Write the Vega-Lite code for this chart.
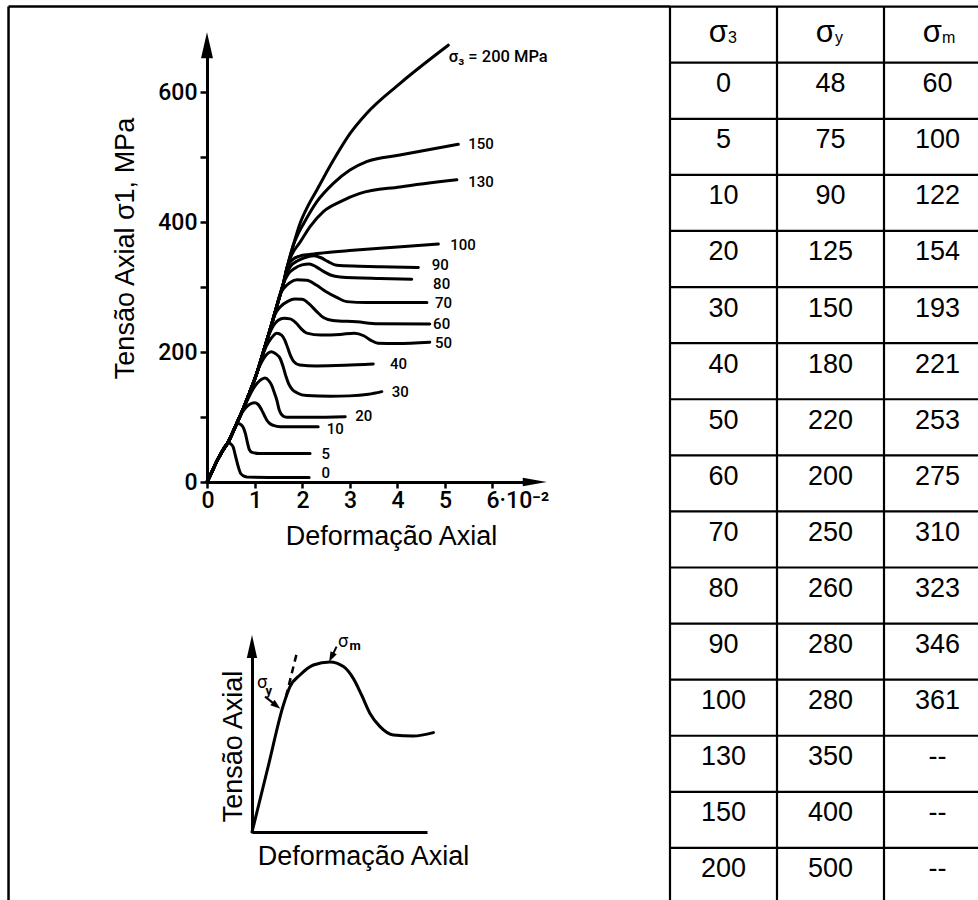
{
  "$schema": "https://vega.github.io/schema/vega-lite/v6.json",
  "width": 978,
  "height": 900,
  "padding": 0,
  "autosize": {"type": "none"},
  "background": "white",
  "config": {"view": {"stroke": null}, "axis": {"grid": false}},
  "datasets": {
    "curves": [
      {"c":0,"e":0,"s":0},{"c":0,"e":0.1,"s":15},{"c":0,"e":0.2,"s":31},{"c":0,"e":0.3,"s":45},{"c":0,"e":0.38,"s":55},{"c":0,"e":0.45,"s":60.5},{"c":0,"e":0.5,"s":58.5},{"c":0,"e":0.55,"s":54},{"c":0,"e":0.6,"s":40},{"c":0,"e":0.66,"s":23},{"c":0,"e":0.71,"s":13},{"c":0,"e":0.78,"s":9},{"c":0,"e":0.85,"s":7.5},{"c":0,"e":1.3,"s":7},{"c":0,"e":2.15,"s":7},
      {"c":5,"e":0,"s":0},{"c":5,"e":0.1,"s":15},{"c":5,"e":0.2,"s":31},{"c":5,"e":0.32,"s":47},{"c":5,"e":0.45,"s":62},{"c":5,"e":0.58,"s":82},{"c":5,"e":0.66,"s":90},{"c":5,"e":0.72,"s":88},{"c":5,"e":0.77,"s":83},{"c":5,"e":0.81,"s":74},{"c":5,"e":0.85,"s":61},{"c":5,"e":0.89,"s":50},{"c":5,"e":0.95,"s":45.5},{"c":5,"e":1.1,"s":44},{"c":5,"e":2.17,"s":44},
      {"c":10,"e":0,"s":0},{"c":10,"e":0.1,"s":15},{"c":10,"e":0.2,"s":31},{"c":10,"e":0.32,"s":47},{"c":10,"e":0.45,"s":62},{"c":10,"e":0.625,"s":90},{"c":10,"e":0.7,"s":102},{"c":10,"e":0.8,"s":113},{"c":10,"e":0.9,"s":119.5},{"c":10,"e":1.0,"s":122},{"c":10,"e":1.08,"s":119},{"c":10,"e":1.15,"s":111},{"c":10,"e":1.21,"s":102},{"c":10,"e":1.26,"s":95},{"c":10,"e":1.32,"s":90},{"c":10,"e":1.4,"s":87},{"c":10,"e":1.54,"s":85},{"c":10,"e":2.0,"s":85},{"c":10,"e":2.34,"s":85},
      {"c":20,"e":0,"s":0},{"c":20,"e":0.1,"s":15},{"c":20,"e":0.2,"s":31},{"c":20,"e":0.32,"s":47},{"c":20,"e":0.45,"s":62},{"c":20,"e":0.625,"s":90},{"c":20,"e":0.765,"s":113},{"c":20,"e":0.87,"s":129},{"c":20,"e":0.97,"s":143},{"c":20,"e":1.07,"s":153},{"c":20,"e":1.15,"s":158},{"c":20,"e":1.22,"s":160},{"c":20,"e":1.3,"s":156},{"c":20,"e":1.36,"s":149},{"c":20,"e":1.42,"s":137},{"c":20,"e":1.47,"s":126},{"c":20,"e":1.52,"s":111},{"c":20,"e":1.58,"s":103},{"c":20,"e":1.68,"s":99.5},{"c":20,"e":2.2,"s":99.5},{"c":20,"e":2.91,"s":100.5},
      {"c":30,"e":0,"s":0},{"c":30,"e":0.1,"s":15},{"c":30,"e":0.2,"s":31},{"c":30,"e":0.32,"s":47},{"c":30,"e":0.45,"s":62},{"c":30,"e":0.625,"s":90},{"c":30,"e":0.765,"s":113},{"c":30,"e":0.905,"s":139},{"c":30,"e":1.0,"s":157},{"c":30,"e":1.1,"s":177},{"c":30,"e":1.2,"s":191},{"c":30,"e":1.28,"s":198},{"c":30,"e":1.36,"s":200.5},{"c":30,"e":1.45,"s":197},{"c":30,"e":1.54,"s":190},{"c":30,"e":1.6,"s":178},{"c":30,"e":1.66,"s":163},{"c":30,"e":1.72,"s":151},{"c":30,"e":1.8,"s":142},{"c":30,"e":1.9,"s":137},{"c":30,"e":2.1,"s":133},{"c":30,"e":2.6,"s":132},{"c":30,"e":3.0,"s":132.5},{"c":30,"e":3.4,"s":135},{"c":30,"e":3.68,"s":139},
      {"c":40,"e":0,"s":0},{"c":40,"e":0.1,"s":15},{"c":40,"e":0.2,"s":31},{"c":40,"e":0.32,"s":47},{"c":40,"e":0.45,"s":62},{"c":40,"e":0.625,"s":90},{"c":40,"e":0.765,"s":113},{"c":40,"e":0.905,"s":139},{"c":40,"e":1.046,"s":167},{"c":40,"e":1.15,"s":191},{"c":40,"e":1.25,"s":209},{"c":40,"e":1.35,"s":221},{"c":40,"e":1.47,"s":229},{"c":40,"e":1.57,"s":226},{"c":40,"e":1.64,"s":218},{"c":40,"e":1.7,"s":206},{"c":40,"e":1.76,"s":194},{"c":40,"e":1.83,"s":185},{"c":40,"e":1.95,"s":180},{"c":40,"e":2.3,"s":178.5},{"c":40,"e":2.9,"s":179.5},{"c":40,"e":3.5,"s":181.5},
      {"c":50,"e":0,"s":0},{"c":50,"e":0.1,"s":15},{"c":50,"e":0.2,"s":31},{"c":50,"e":0.32,"s":47},{"c":50,"e":0.45,"s":62},{"c":50,"e":0.625,"s":90},{"c":50,"e":0.765,"s":113},{"c":50,"e":0.905,"s":139},{"c":50,"e":1.046,"s":167},{"c":50,"e":1.186,"s":200},{"c":50,"e":1.3,"s":226},{"c":50,"e":1.4,"s":241},{"c":50,"e":1.5,"s":249},{"c":50,"e":1.62,"s":252},{"c":50,"e":1.75,"s":251},{"c":50,"e":1.87,"s":245},{"c":50,"e":1.98,"s":236},{"c":50,"e":2.1,"s":229},{"c":50,"e":2.4,"s":226},{"c":50,"e":2.8,"s":227},{"c":50,"e":3.1,"s":229},{"c":50,"e":3.3,"s":225},{"c":50,"e":3.45,"s":218},{"c":50,"e":3.6,"s":213.5},{"c":50,"e":4.0,"s":213},{"c":50,"e":4.69,"s":215},
      {"c":60,"e":0,"s":0},{"c":60,"e":0.1,"s":15},{"c":60,"e":0.2,"s":31},{"c":60,"e":0.32,"s":47},{"c":60,"e":0.45,"s":62},{"c":60,"e":0.625,"s":90},{"c":60,"e":0.765,"s":113},{"c":60,"e":0.905,"s":139},{"c":60,"e":1.046,"s":167},{"c":60,"e":1.186,"s":200},{"c":60,"e":1.326,"s":234},{"c":60,"e":1.42,"s":256},{"c":60,"e":1.55,"s":270},{"c":60,"e":1.7,"s":278},{"c":60,"e":1.85,"s":281.5},{"c":60,"e":2.0,"s":281},{"c":60,"e":2.15,"s":274},{"c":60,"e":2.3,"s":263},{"c":60,"e":2.45,"s":253},{"c":60,"e":2.65,"s":248.5},{"c":60,"e":3.15,"s":246.5},{"c":60,"e":3.6,"s":243.5},{"c":60,"e":4.69,"s":243},
      {"c":70,"e":0,"s":0},{"c":70,"e":0.1,"s":15},{"c":70,"e":0.2,"s":31},{"c":70,"e":0.32,"s":47},{"c":70,"e":0.45,"s":62},{"c":70,"e":0.625,"s":90},{"c":70,"e":0.765,"s":113},{"c":70,"e":0.905,"s":139},{"c":70,"e":1.046,"s":167},{"c":70,"e":1.186,"s":200},{"c":70,"e":1.326,"s":234},{"c":70,"e":1.467,"s":270},{"c":70,"e":1.53,"s":287},{"c":70,"e":1.63,"s":299},{"c":70,"e":1.75,"s":307},{"c":70,"e":1.9,"s":311},{"c":70,"e":2.1,"s":310.5},{"c":70,"e":2.3,"s":303},{"c":70,"e":2.5,"s":293},{"c":70,"e":2.73,"s":284},{"c":70,"e":2.94,"s":277.5},{"c":70,"e":3.36,"s":276},{"c":70,"e":4.63,"s":276},
      {"c":80,"e":0,"s":0},{"c":80,"e":0.1,"s":15},{"c":80,"e":0.2,"s":31},{"c":80,"e":0.32,"s":47},{"c":80,"e":0.45,"s":62},{"c":80,"e":0.625,"s":90},{"c":80,"e":0.765,"s":113},{"c":80,"e":0.905,"s":139},{"c":80,"e":1.046,"s":167},{"c":80,"e":1.186,"s":200},{"c":80,"e":1.326,"s":234},{"c":80,"e":1.467,"s":270},{"c":80,"e":1.607,"s":305},{"c":80,"e":1.7,"s":319},{"c":80,"e":1.85,"s":329},{"c":80,"e":2.0,"s":334},{"c":80,"e":2.15,"s":335.5},{"c":80,"e":2.3,"s":331},{"c":80,"e":2.45,"s":324},{"c":80,"e":2.6,"s":318.5},{"c":80,"e":2.8,"s":315.5},{"c":80,"e":3.64,"s":313},{"c":80,"e":4.31,"s":312},
      {"c":90,"e":0,"s":0},{"c":90,"e":0.1,"s":15},{"c":90,"e":0.2,"s":31},{"c":90,"e":0.32,"s":47},{"c":90,"e":0.45,"s":62},{"c":90,"e":0.625,"s":90},{"c":90,"e":0.765,"s":113},{"c":90,"e":0.905,"s":139},{"c":90,"e":1.046,"s":167},{"c":90,"e":1.186,"s":200},{"c":90,"e":1.326,"s":234},{"c":90,"e":1.467,"s":270},{"c":90,"e":1.607,"s":305},{"c":90,"e":1.66,"s":318},{"c":90,"e":1.76,"s":332},{"c":90,"e":1.9,"s":340},{"c":90,"e":2.05,"s":345},{"c":90,"e":2.25,"s":348},{"c":90,"e":2.4,"s":345},{"c":90,"e":2.55,"s":339},{"c":90,"e":2.73,"s":333.5},{"c":90,"e":3.2,"s":332},{"c":90,"e":3.64,"s":331},{"c":90,"e":4.45,"s":330},
      {"c":100,"e":0,"s":0},{"c":100,"e":0.1,"s":15},{"c":100,"e":0.2,"s":31},{"c":100,"e":0.32,"s":47},{"c":100,"e":0.45,"s":62},{"c":100,"e":0.625,"s":90},{"c":100,"e":0.765,"s":113},{"c":100,"e":0.905,"s":139},{"c":100,"e":1.046,"s":167},{"c":100,"e":1.186,"s":200},{"c":100,"e":1.326,"s":234},{"c":100,"e":1.467,"s":270},{"c":100,"e":1.607,"s":305},{"c":100,"e":1.69,"s":331},{"c":100,"e":1.8,"s":342},{"c":100,"e":1.95,"s":347.5},{"c":100,"e":2.15,"s":350},{"c":100,"e":2.45,"s":352.5},{"c":100,"e":3.0,"s":356},{"c":100,"e":3.64,"s":359.5},{"c":100,"e":4.3,"s":363},{"c":100,"e":4.87,"s":366},
      {"c":130,"e":0,"s":0},{"c":130,"e":0.1,"s":15},{"c":130,"e":0.2,"s":31},{"c":130,"e":0.32,"s":47},{"c":130,"e":0.45,"s":62},{"c":130,"e":0.625,"s":90},{"c":130,"e":0.765,"s":113},{"c":130,"e":0.905,"s":139},{"c":130,"e":1.046,"s":167},{"c":130,"e":1.186,"s":200},{"c":130,"e":1.326,"s":234},{"c":130,"e":1.467,"s":270},{"c":130,"e":1.607,"s":305},{"c":130,"e":1.69,"s":331},{"c":130,"e":1.78,"s":349},{"c":130,"e":1.96,"s":369},{"c":130,"e":2.17,"s":393},{"c":130,"e":2.45,"s":416},{"c":130,"e":2.8,"s":431},{"c":130,"e":3.22,"s":444},{"c":130,"e":4.06,"s":454},{"c":130,"e":5.26,"s":465},
      {"c":150,"e":0,"s":0},{"c":150,"e":0.1,"s":15},{"c":150,"e":0.2,"s":31},{"c":150,"e":0.32,"s":47},{"c":150,"e":0.45,"s":62},{"c":150,"e":0.625,"s":90},{"c":150,"e":0.765,"s":113},{"c":150,"e":0.905,"s":139},{"c":150,"e":1.046,"s":167},{"c":150,"e":1.186,"s":200},{"c":150,"e":1.326,"s":234},{"c":150,"e":1.467,"s":270},{"c":150,"e":1.607,"s":305},{"c":150,"e":1.69,"s":331},{"c":150,"e":1.82,"s":365},{"c":150,"e":1.92,"s":382},{"c":150,"e":2.03,"s":397},{"c":150,"e":2.31,"s":431},{"c":150,"e":2.66,"s":459.5},{"c":150,"e":3.01,"s":480},{"c":150,"e":3.36,"s":493},{"c":150,"e":4.06,"s":503},{"c":150,"e":5.29,"s":519.5},
      {"c":200,"e":0,"s":0},{"c":200,"e":0.1,"s":15},{"c":200,"e":0.2,"s":31},{"c":200,"e":0.32,"s":47},{"c":200,"e":0.45,"s":62},{"c":200,"e":0.625,"s":90},{"c":200,"e":0.765,"s":113},{"c":200,"e":0.905,"s":139},{"c":200,"e":1.046,"s":167},{"c":200,"e":1.186,"s":200},{"c":200,"e":1.326,"s":234},{"c":200,"e":1.467,"s":270},{"c":200,"e":1.607,"s":305},{"c":200,"e":1.69,"s":331},{"c":200,"e":1.82,"s":365},{"c":200,"e":1.96,"s":398},{"c":200,"e":2.12,"s":424},{"c":200,"e":2.31,"s":449},{"c":200,"e":2.66,"s":495},{"c":200,"e":3.01,"s":536},{"c":200,"e":3.36,"s":567},{"c":200,"e":4.06,"s":613},{"c":200,"e":5.08,"s":672}
    ],
    "topLabel": [{"lab":"σ₃ = 200 MPa","e":5.09,"s":654}],
    "curveLabels": [
      {"lab":"150","e":5.5,"s":520},
      {"lab":"130","e":5.5,"s":461},
      {"lab":"100","e":5.12,"s":364.6},
      {"lab":"90","e":4.73,"s":334.5},
      {"lab":"80","e":4.76,"s":304.5},
      {"lab":"70","e":4.8,"s":276},
      {"lab":"60","e":4.76,"s":243},
      {"lab":"50","e":4.8,"s":214.6},
      {"lab":"40","e":3.85,"s":181.5},
      {"lab":"30","e":3.89,"s":137.7},
      {"lab":"20","e":3.12,"s":101.5},
      {"lab":"10","e":2.52,"s":81.5},
      {"lab":"5","e":2.41,"s":43},
      {"lab":"0","e":2.41,"s":14.6}
    ],
    "schem": [
      {"u":0,"v":0},{"u":0.8,"v":3.24},{"u":1.57,"v":6.35},{"u":1.9,"v":7.27},{"u":2.4,"v":7.85},{"u":3.07,"v":8.35},{"u":3.9,"v":8.5},{"u":4.57,"v":8.27},{"u":5.07,"v":7.67},{"u":5.48,"v":6.85},{"u":5.9,"v":5.93},{"u":6.4,"v":5.27},{"u":7.07,"v":4.85},{"u":8.07,"v":4.8},{"u":9.07,"v":4.97}
    ],
    "schemDash": [{"u":1.7,"v":6.77},{"u":2.27,"v":9.07}],
    "pointerY": [{"u":0.65,"v":6.77,"u2":1.22,"v2":6.32}],
    "pointerM": [{"u":4.23,"v":9.27,"u2":3.97,"v2":8.74}],
    "sigmas": [{"u":0.5,"v":7.45},{"u":4.55,"v":9.52}],
    "subs": [{"t":"y","u":0.84,"v":7.05},{"t":"m","u":5.15,"v":9.3}],
    "table": [
      {"r":1,"s3":"0","sy":"48","sm":"60"},
      {"r":2,"s3":"5","sy":"75","sm":"100"},
      {"r":3,"s3":"10","sy":"90","sm":"122"},
      {"r":4,"s3":"20","sy":"125","sm":"154"},
      {"r":5,"s3":"30","sy":"150","sm":"193"},
      {"r":6,"s3":"40","sy":"180","sm":"221"},
      {"r":7,"s3":"50","sy":"220","sm":"253"},
      {"r":8,"s3":"60","sy":"200","sm":"275"},
      {"r":9,"s3":"70","sy":"250","sm":"310"},
      {"r":10,"s3":"80","sy":"260","sm":"323"},
      {"r":11,"s3":"90","sy":"280","sm":"346"},
      {"r":12,"s3":"100","sy":"280","sm":"361"},
      {"r":13,"s3":"130","sy":"350","sm":"--"},
      {"r":14,"s3":"150","sy":"400","sm":"--"},
      {"r":15,"s3":"200","sy":"500","sm":"--"}
    ],
    "header": [{"c":0.5,"sub":"3"},{"c":1.5,"sub":"y"},{"c":2.5,"sub":"m"}],
    "hlines": [{"j":0},{"j":1},{"j":2},{"j":3},{"j":4},{"j":5},{"j":6},{"j":7},{"j":8},{"j":9},{"j":10},{"j":11},{"j":12},{"j":13},{"j":14},{"j":15}],
    "vlines": [{"k":0},{"k":1},{"k":2},{"k":3}]
  },
  "layer": [
    {
      "encoding": {
        "x": {"field": "e", "type": "quantitative",
          "scale": {"domain": [0, 6.9], "range": [207, 534.75], "nice": false, "zero": false},
          "axis": {"orient": "bottom", "offset": -418, "values": [0,1,2,3,4,5,6],
            "labelExpr": "datum.value == 6 ? '6·10⁻²' : datum.label",
            "labelAlign": "left", "labelOffset": -6, "labelFlush": false, "labelOverlap": false,
            "labelFont": "Roboto", "labelFontSize": 23, "labelFontWeight": 500, "labelColor": "black", "labelPadding": 1,
            "tickSize": 6, "tickWidth": 2.5, "tickColor": "black", "domainColor": "black", "domainWidth": 3, "grid": false,
            "title": "Deformação Axial", "titleFont": "Liberation Sans", "titleFontSize": 27, "titleFontWeight": "normal", "titleColor": "black",
            "titleX": 391, "titleY": 62, "titleAlign": "center", "titleBaseline": "alphabetic", "titleAngle": 0}},
        "y": {"field": "s", "type": "quantitative",
          "scale": {"domain": [0, 672], "range": [482, 45.2], "nice": false, "zero": false},
          "axis": {"orient": "left", "offset": -207, "values": [0,100,200,300,400,500,600],
            "labelExpr": "datum.value % 200 == 0 ? datum.label : ''",
            "labelFlush": false, "labelOverlap": false,
            "labelFont": "Roboto", "labelFontSize": 23, "labelFontWeight": 500, "labelColor": "black", "labelPadding": 3,
            "tickSize": 7, "tickWidth": 2.5, "tickColor": "black", "domainColor": "black", "domainWidth": 3, "grid": false,
            "title": "Tensão Axial σ1, MPa", "titleFont": "Liberation Sans", "titleFontSize": 27, "titleFontWeight": "normal", "titleColor": "black",
            "titleX": -74, "titleY": 248, "titleAngle": 270, "titleAlign": "center", "titleBaseline": "alphabetic"}}
      },
      "layer": [
        {"data": {"name": "curves"},
         "mark": {"type": "line", "interpolate": "monotone", "color": "black", "strokeWidth": 3, "strokeCap": "round", "strokeJoin": "round"},
         "encoding": {"detail": {"field": "c", "type": "nominal"}}},
        {"data": {"name": "curveLabels"},
         "mark": {"type": "text", "align": "left", "baseline": "middle", "font": "Roboto", "fontSize": 15, "fontWeight": 500, "color": "black"},
         "encoding": {"text": {"field": "lab", "type": "nominal"}}},
        {"data": {"name": "topLabel"},
         "mark": {"type": "text", "align": "left", "baseline": "middle", "font": "Roboto", "fontSize": 16.5, "fontWeight": 500, "color": "black"},
         "encoding": {"text": {"field": "lab", "type": "nominal"}}},
        {"data": {"values": [{"e": 0, "s": 672}]},
         "mark": {"type": "point", "shape": "M0,-1L0.46,1L-0.46,1Z", "size": 676, "filled": true, "color": "black", "opacity": 1, "strokeWidth": 0}},
        {"data": {"values": [{"e": 6.9, "s": 0}]},
         "mark": {"type": "point", "shape": "M1,0L-1,-0.35L-1,0.35Z", "size": 576, "filled": true, "color": "black", "opacity": 1, "strokeWidth": 0}}
      ]
    },
    {
      "encoding": {
        "x": {"field": "u", "type": "quantitative",
          "scale": {"domain": [0, 8.75], "range": [252, 427], "nice": false, "zero": false},
          "axis": {"orient": "bottom", "offset": -68, "ticks": false, "labels": false, "grid": false,
            "domainColor": "black", "domainWidth": 3,
            "title": "Deformação Axial", "titleFont": "Liberation Sans", "titleFontSize": 27, "titleFontWeight": "normal", "titleColor": "black",
            "titleX": 363, "titleY": 32, "titleAlign": "center", "titleBaseline": "alphabetic", "titleAngle": 0}},
        "y": {"field": "v", "type": "quantitative",
          "scale": {"domain": [0, 9.275], "range": [832, 646.5], "nice": false, "zero": false},
          "axis": {"orient": "left", "offset": -252, "ticks": false, "labels": false, "grid": false,
            "domainColor": "black", "domainWidth": 3,
            "title": "Tensão Axial", "titleFont": "Liberation Sans", "titleFontSize": 27, "titleFontWeight": "normal", "titleColor": "black",
            "titleX": -11, "titleY": 746, "titleAngle": 270, "titleAlign": "center", "titleBaseline": "alphabetic"}}
      },
      "layer": [
        {"data": {"name": "schem"},
         "mark": {"type": "line", "interpolate": "monotone", "color": "black", "strokeWidth": 3, "strokeCap": "round"}},
        {"data": {"name": "schemDash"},
         "mark": {"type": "line", "color": "black", "strokeWidth": 2.5, "strokeDash": [7, 5]}},
        {"data": {"name": "pointerY"},
         "mark": {"type": "rule", "color": "black", "strokeWidth": 2},
         "encoding": {"x2": {"field": "u2"}, "y2": {"field": "v2"}}},
        {"data": {"name": "pointerM"},
         "mark": {"type": "rule", "color": "black", "strokeWidth": 2},
         "encoding": {"x2": {"field": "u2"}, "y2": {"field": "v2"}}},
        {"data": {"values": [{"u": 1.22, "v": 6.32}]},
         "mark": {"type": "point", "shape": "M1,0L-1,-0.7L-1,0.7Z", "size": 100, "angle": 38.6, "filled": true, "color": "black", "opacity": 1, "strokeWidth": 0}},
        {"data": {"values": [{"u": 3.97, "v": 8.74}]},
         "mark": {"type": "point", "shape": "M1,0L-1,-0.7L-1,0.7Z", "size": 100, "angle": 116.7, "filled": true, "color": "black", "opacity": 1, "strokeWidth": 0}},
        {"data": {"values": [{"u": 0, "v": 9.275}]},
         "mark": {"type": "point", "shape": "M0,-1L0.45,1L-0.45,1Z", "size": 529, "filled": true, "color": "black", "opacity": 1, "strokeWidth": 0}},
        {"data": {"name": "sigmas"},
         "mark": {"type": "text", "text": "σ", "align": "center", "baseline": "middle", "font": "Roboto", "fontSize": 18, "color": "black"}},
        {"data": {"name": "subs"},
         "mark": {"type": "text", "align": "center", "baseline": "middle", "font": "Roboto", "fontSize": 13, "fontWeight": "bold", "color": "black"},
         "encoding": {"text": {"field": "t", "type": "nominal"}}}
      ]
    },
    {
      "layer": [
        {"data": {"name": "hlines"},
         "mark": {"type": "rule", "color": "black", "strokeWidth": 2.2},
         "encoding": {
           "x": {"datum": 0, "type": "quantitative", "scale": {"domain": [0, 3], "range": [670, 991], "nice": false, "zero": false}, "axis": null},
           "x2": {"datum": 3},
           "y": {"field": "j", "type": "quantitative", "scale": {"domain": [0, 16], "range": [6.6, 904.04], "nice": false, "zero": false}, "axis": null}}},
        {"data": {"name": "vlines"},
         "mark": {"type": "rule", "color": "black", "strokeWidth": 2.2},
         "encoding": {
           "x": {"field": "k", "type": "quantitative", "scale": {"domain": [0, 3], "range": [670, 991], "nice": false, "zero": false}, "axis": null},
           "y": {"datum": 0, "type": "quantitative", "scale": {"domain": [0, 16], "range": [6.6, 904.04], "nice": false, "zero": false}, "axis": null},
           "y2": {"datum": 16}}},
        {"data": {"values": [{}]},
         "mark": {"type": "rule", "color": "black", "strokeWidth": 2.5},
         "encoding": {
           "x": {"datum": -6.182, "type": "quantitative", "scale": {"domain": [0, 3], "range": [670, 991], "nice": false, "zero": false}, "axis": null},
           "x2": {"datum": 0},
           "y": {"datum": 0, "type": "quantitative", "scale": {"domain": [0, 16], "range": [6.6, 904.04], "nice": false, "zero": false}, "axis": null}}},
        {"data": {"values": [{}]},
         "mark": {"type": "rule", "color": "black", "strokeWidth": 2.5},
         "encoding": {
           "x": {"datum": -6.182, "type": "quantitative", "scale": {"domain": [0, 3], "range": [670, 991], "nice": false, "zero": false}, "axis": null},
           "y": {"datum": 0, "type": "quantitative", "scale": {"domain": [0, 16], "range": [6.6, 904.04], "nice": false, "zero": false}, "axis": null},
           "y2": {"datum": 16}}},
        {"data": {"name": "header"},
         "mark": {"type": "text", "text": "σ", "align": "right", "baseline": "alphabetic", "dx": 4.5, "dy": 35.1, "font": "Liberation Sans", "fontSize": 31, "color": "black"},
         "encoding": {
           "x": {"field": "c", "type": "quantitative", "scale": {"domain": [0, 3], "range": [670, 991], "nice": false, "zero": false}, "axis": null},
           "y": {"datum": 0, "type": "quantitative", "scale": {"domain": [0, 16], "range": [6.6, 904.04], "nice": false, "zero": false}, "axis": null}}},
        {"data": {"name": "header"},
         "mark": {"type": "text", "align": "left", "baseline": "alphabetic", "dx": 4.5, "dy": 36.7, "font": "Liberation Sans", "fontSize": 16, "color": "black"},
         "encoding": {
           "x": {"field": "c", "type": "quantitative", "scale": {"domain": [0, 3], "range": [670, 991], "nice": false, "zero": false}, "axis": null},
           "y": {"datum": 0, "type": "quantitative", "scale": {"domain": [0, 16], "range": [6.6, 904.04], "nice": false, "zero": false}, "axis": null},
           "text": {"field": "sub", "type": "nominal"}}},
        {"data": {"name": "table"},
         "mark": {"type": "text", "align": "center", "baseline": "alphabetic", "dy": 29.5, "font": "Liberation Sans", "fontSize": 27, "color": "black"},
         "encoding": {
           "x": {"datum": 0.5, "type": "quantitative", "scale": {"domain": [0, 3], "range": [670, 991], "nice": false, "zero": false}, "axis": null},
           "y": {"field": "r", "type": "quantitative", "scale": {"domain": [0, 16], "range": [6.6, 904.04], "nice": false, "zero": false}, "axis": null},
           "text": {"field": "s3", "type": "nominal"}}},
        {"data": {"name": "table"},
         "mark": {"type": "text", "align": "center", "baseline": "alphabetic", "dy": 29.5, "font": "Liberation Sans", "fontSize": 27, "color": "black"},
         "encoding": {
           "x": {"datum": 1.5, "type": "quantitative", "scale": {"domain": [0, 3], "range": [670, 991], "nice": false, "zero": false}, "axis": null},
           "y": {"field": "r", "type": "quantitative", "scale": {"domain": [0, 16], "range": [6.6, 904.04], "nice": false, "zero": false}, "axis": null},
           "text": {"field": "sy", "type": "nominal"}}},
        {"data": {"name": "table"},
         "mark": {"type": "text", "align": "center", "baseline": "alphabetic", "dy": 29.5, "font": "Liberation Sans", "fontSize": 27, "color": "black"},
         "encoding": {
           "x": {"datum": 2.5, "type": "quantitative", "scale": {"domain": [0, 3], "range": [670, 991], "nice": false, "zero": false}, "axis": null},
           "y": {"field": "r", "type": "quantitative", "scale": {"domain": [0, 16], "range": [6.6, 904.04], "nice": false, "zero": false}, "axis": null},
           "text": {"field": "sm", "type": "nominal"}}}
      ]
    }
  ],
  "resolve": {"scale": {"x": "independent", "y": "independent"}}
}
